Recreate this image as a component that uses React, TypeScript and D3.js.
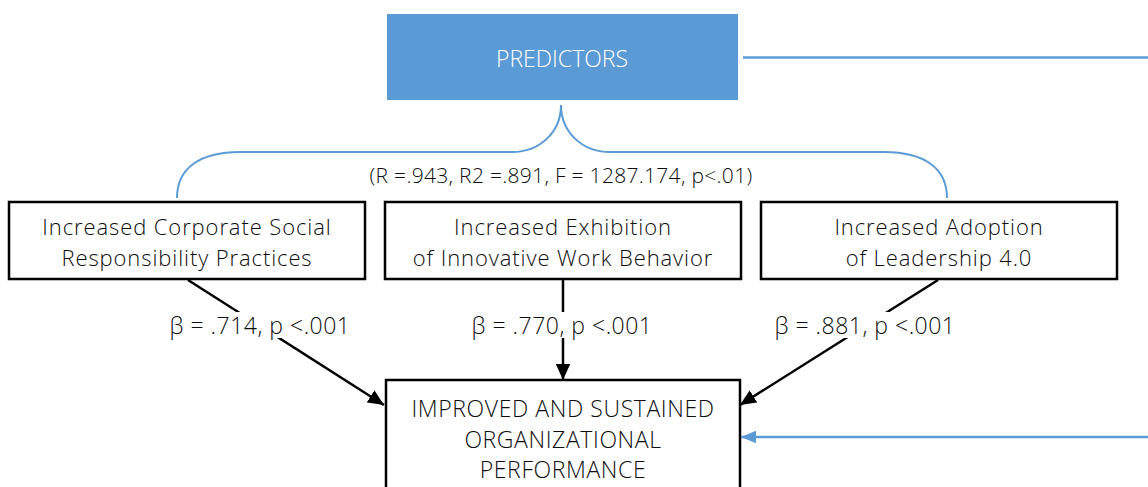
import React from 'react';
import * as d3 from 'd3';

const predictorLabel = 'PREDICTORS';
const modelStats = '(R =.943, R2 =.891, F = 1287.174, p<.01)';
const predictors = [
  ['Increased Corporate Social', 'Responsibility Practices'],
  ['Increased Exhibition', 'of Innovative Work Behavior'],
  ['Increased Adoption', 'of Leadership 4.0'],
];
const betas = ['β = .714, p <.001', 'β = .770, p <.001', 'β = .881, p <.001'];
const outcomeLines = ['IMPROVED AND SUSTAINED', 'ORGANIZATIONAL', 'PERFORMANCE'];

const W = 1148;
const H = 487;
const BLUE = '#5B9BD5';
const TEXT = '#0d0d0d';
const FONT = '"Open Sans", "Segoe UI", sans-serif';

// predictor boxes along x
const xBox = d3.scaleLinear().domain([0, 2]).range([9, 761]);
const boxW = 356;
const boxTop = 202;
const boxH = 77;

// outcome box
const out = { x: 386, y: 380, w: 354, h: 130 };

// arrow start/end per predictor
const arrowFrom = [[188, 280], [563, 280], [938, 280]];
const arrowTo = [[384, 405], [563, 380], [740, 405]];
const labelX = [260, 562, 865];
const labelY = 325;

const App: React.FC = () => {
  const brace = d3.path();
  brace.moveTo(177, 198);
  brace.bezierCurveTo(177, 168, 200, 152, 240, 152);
  brace.lineTo(512, 152);
  brace.bezierCurveTo(540, 152, 561, 132, 561, 105);
  brace.bezierCurveTo(561, 132, 582, 152, 610, 152);
  brace.lineTo(884, 152);
  brace.bezierCurveTo(924, 152, 947, 168, 947, 198);

  return (
    <svg width={W} height={H} style={{ position: 'absolute', left: 0, top: 0, background: '#fff' }}>
      <defs>
        <marker id="ah" viewBox="0 0 10 10" refX="10" refY="5" markerWidth="16" markerHeight="16"
          markerUnits="userSpaceOnUse" orient="auto" preserveAspectRatio="none">
          <path d="M0,0.5 L10,5 L0,9.5 Z" fill="#000" />
        </marker>
        <marker id="ahb" viewBox="0 0 10 10" refX="10" refY="5" markerWidth="15" markerHeight="14"
          markerUnits="userSpaceOnUse" orient="auto" preserveAspectRatio="none">
          <path d="M0,0.5 L10,5 L0,9.5 Z" fill={BLUE} />
        </marker>
      </defs>

      {/* predictors box */}
      <rect x={387} y={14} width={351} height={86} fill={BLUE} />
      <text x={562} y={58} textAnchor="middle" dominantBaseline="central" fill="#fff"
        fontFamily={FONT} fontWeight={300} fontSize={23}>{predictorLabel}</text>
      <line x1={743} x2={W} y1={57.5} y2={57.5} stroke={BLUE} strokeWidth={2.5} />

      <path d={brace.toString()} fill="none" stroke={BLUE} strokeWidth={2} />
      <text x={561} y={175} textAnchor="middle" dominantBaseline="central" fill={TEXT}
        fontFamily={FONT} fontWeight={300} fontSize={21} letterSpacing={0.3}>{modelStats}</text>

      {/* arrows */}
      {arrowFrom.map((f, i) => (
        <line key={'a' + i} x1={f[0]} y1={f[1]} x2={arrowTo[i][0]} y2={arrowTo[i][1]}
          stroke="#000" strokeWidth={2.5} markerEnd="url(#ah)" />
      ))}
      {betas.map((b, i) => (
        <g key={'b' + i}>
          <rect x={labelX[i] - 90} y={labelY - 13} width={180} height={26} fill="#fff" />
          <text x={labelX[i]} y={labelY} textAnchor="middle" dominantBaseline="central" fill={TEXT}
            fontFamily={FONT} fontWeight={300} fontSize={23} letterSpacing={0.5}>{b}</text>
        </g>
      ))}

      {/* predictor boxes */}
      {predictors.map((lines, i) => (
        <g key={'p' + i}>
          <rect x={xBox(i)} y={boxTop} width={boxW} height={boxH} fill="#fff" stroke="#000" strokeWidth={2.5} />
          {lines.map((t, j) => (
            <text key={j} x={xBox(i) + boxW / 2} y={boxTop + 24 + j * 31} textAnchor="middle"
              dominantBaseline="central" fill={TEXT} fontFamily={FONT} fontWeight={300} fontSize={22}
              letterSpacing={0.9}>{t}</text>
          ))}
        </g>
      ))}

      {/* outcome */}
      <rect x={out.x} y={out.y} width={out.w} height={out.h} fill="#fff" stroke="#000" strokeWidth={2.5} />
      {outcomeLines.map((t, j) => (
        <text key={j} x={out.x + out.w / 2} y={408 + j * 30.5} textAnchor="middle" dominantBaseline="central"
          fill={TEXT} fontFamily={FONT} fontWeight={300} fontSize={23} letterSpacing={0.6}>{t}</text>
      ))}
      <line x1={W} x2={741} y1={437} y2={437} stroke={BLUE} strokeWidth={2.5} markerEnd="url(#ahb)" />
    </svg>
  );
};

export default App;
